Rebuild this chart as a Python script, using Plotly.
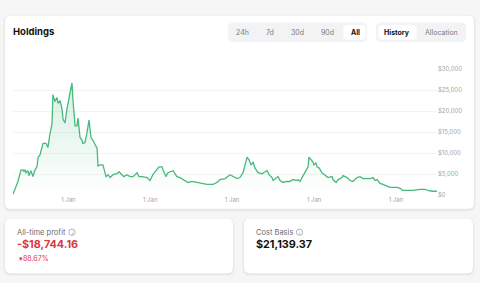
import plotly.graph_objects as go

W, H = 480, 283

# ---- data ----
dates = [
    "2017-04-29", "2017-05-17", "2017-05-21", "2017-06-04", "2017-06-13", "2017-06-17", "2017-06-22",
    "2017-06-26", "2017-07-05", "2017-07-09", "2017-07-18", "2017-07-27", "2017-08-01", "2017-08-05",
    "2017-08-14", "2017-08-19", "2017-08-27", "2017-09-05", "2017-09-10", "2017-09-23", "2017-10-02",
    "2017-10-11", "2017-10-20", "2017-10-24", "2017-11-02", "2017-11-11", "2017-11-16", "2017-11-25",
    "2017-12-04", "2017-12-08", "2017-12-17", "2017-12-26", "2017-12-30", "2018-01-08", "2018-01-17",
    "2018-01-22", "2018-01-31", "2018-02-08", "2018-02-13", "2018-02-22", "2018-03-03", "2018-03-07",
    "2018-03-16", "2018-03-25", "2018-04-03", "2018-04-12", "2018-04-21", "2018-05-09", "2018-05-13",
    "2018-05-22", "2018-06-04", "2018-06-18", "2018-06-27", "2018-07-06", "2018-07-19", "2018-08-06",
    "2018-08-15", "2018-08-28", "2018-09-06", "2018-09-19", "2018-10-03", "2018-10-16", "2018-11-03",
    "2018-11-12", "2018-11-25", "2018-12-18", "2018-12-31", "2019-01-13", "2019-01-31", "2019-02-09",
    "2019-02-23", "2019-02-27", "2019-03-12", "2019-03-21", "2019-04-13", "2019-04-30", "2019-05-14",
    "2019-05-27", "2019-06-19", "2019-07-06", "2019-07-29", "2019-08-20", "2019-09-11", "2019-10-08",
    "2019-10-26", "2019-11-08", "2019-12-01", "2019-12-23", "2020-01-05", "2020-01-23", "2020-02-05",
    "2020-02-19", "2020-02-28", "2020-03-08", "2020-03-17", "2020-03-26", "2020-04-04", "2020-04-12",
    "2020-04-26", "2020-05-14", "2020-05-27", "2020-06-05", "2020-06-14", "2020-06-27", "2020-07-02",
    "2020-07-15", "2020-07-24", "2020-08-02", "2020-08-15", "2020-09-02", "2020-09-15", "2020-09-29",
    "2020-10-17", "2020-10-21", "2020-10-30", "2020-11-08", "2020-11-21", "2020-12-05", "2020-12-09",
    "2020-12-18", "2020-12-27", "2020-12-31", "2021-01-09", "2021-01-14", "2021-01-23", "2021-02-05",
    "2021-02-18", "2021-03-04", "2021-03-22", "2021-03-26", "2021-04-09", "2021-04-18", "2021-05-05",
    "2021-05-10", "2021-05-28", "2021-06-10", "2021-06-23", "2021-07-11", "2021-07-25", "2021-08-07",
    "2021-08-25", "2021-09-07", "2021-09-21", "2021-09-30", "2021-10-09", "2021-10-22", "2021-11-04",
    "2021-11-22", "2021-12-05", "2021-12-19", "2022-01-06", "2022-01-19", "2022-02-01", "2022-02-19",
    "2022-03-05", "2022-03-18", "2022-04-18", "2022-05-11", "2022-05-24", "2022-06-11", "2022-07-03",
]
values = [
    230, 3020, 3250, 6050, 6050, 5580, 6050,
    5350, 5800, 4650, 5800, 4420, 5350, 6050,
    6750, 9070, 9540, 11160, 12330, 12330, 11400,
    14650, 16980, 23960, 22330, 23260, 21860, 22560,
    20470, 18140, 17210, 20700, 21860, 24660, 26750,
    22330, 16510, 16510, 18380, 13720, 13030, 12330,
    12560, 14890, 17910, 13720, 13030, 11160, 6980,
    7210, 7210, 4420, 4880, 4190, 4880, 5120,
    5580, 4880, 4420, 4880, 4420, 4420, 5350,
    4420, 4420, 4190, 3490, 4880, 6050, 6750,
    6750, 6050, 4420, 5350, 5820, 4420, 4190,
    3720, 3020, 3260, 3020, 2790, 2560, 2560,
    3020, 3720, 3950, 4880, 4420, 3950, 4190,
    5350, 7210, 9070, 8370, 7210, 7910, 6510,
    5350, 5120, 5580, 5820, 4880, 4190, 3490,
    3950, 4420, 3490, 3020, 3260, 3260, 3720,
    3490, 3720, 3260, 4190, 5350, 6750, 9070,
    8600, 7910, 7210, 7680, 6750, 6510, 5350,
    4880, 4190, 4420, 3720, 3020, 3720, 4190,
    4650, 4190, 3490, 3260, 4190, 4420, 3950,
    3950, 3950, 4190, 3490, 3720, 2790, 2560,
    2090, 1860, 1860, 1860, 1630, 1160, 1160,
    1160, 1160, 1400, 1400, 1160, 930, 930,
]
y_ticks = [0, 5000, 10000, 15000, 20000, 25000, 30000]
y_tick_labels = ["$0", "$5,000", "$10,000", "$15,000", "$20,000", "$25,000", "$30,000"]
range_buttons = ["24h", "7d", "30d", "90d", "All"]
view_buttons = ["History", "Allocation"]
profit_label = "All-time profit"
profit_value = "-$18,744.16"
profit_pct = "88.67%"
cost_label = "Cost Basis"
cost_value = "$21,139.37"

FONT = "Inter"
GREEN = "#47b97c"
RED = "#d8383f"


def px(x):
    return x / W


def py(y):
    return 1 - y / H


def rrect(x0, y0, x1, y1, r):
    X, Y = px, py
    return (f"M{X(x0 + r)},{Y(y0)} L{X(x1 - r)},{Y(y0)} Q{X(x1)},{Y(y0)} {X(x1)},{Y(y0 + r)} "
            f"L{X(x1)},{Y(y1 - r)} Q{X(x1)},{Y(y1)} {X(x1 - r)},{Y(y1)} "
            f"L{X(x0 + r)},{Y(y1)} Q{X(x0)},{Y(y1)} {X(x0)},{Y(y1 - r)} "
            f"L{X(x0)},{Y(y0 + r)} Q{X(x0)},{Y(y0)} {X(x0 + r)},{Y(y0)} Z")


shapes = []
annotations = []


def card(x0, y0, x1, y1):
    for d, a in [(2, 0.022), (1, 0.03)]:
        shapes.append(dict(type="path", xref="paper", yref="paper", layer="below",
                           path=rrect(x0 - d, y0 - d + 1, x1 + d, y1 + d + 1, 7),
                           fillcolor=f"rgba(0,0,0,{a})", line=dict(width=0)))
    shapes.append(dict(type="path", xref="paper", yref="paper", layer="below",
                       path=rrect(x0, y0, x1, y1, 6), fillcolor="white", line=dict(width=0)))


card(5, 12, 474, 210)
card(5, 220, 233, 276)
card(244, 220, 473, 276)


def text(x, y, s, size, color, xanchor="left", bold=False):
    annotations.append(dict(xref="paper", yref="paper", x=px(x), y=py(y), text=(f"<b>{s}</b>" if bold else s),
                            showarrow=False, xanchor=xanchor, yanchor="middle", borderpad=0,
                            font=dict(family=FONT, size=size, color=color)))


text(12, 29, "Holdings", 9.5, "#111111", bold=True)

# segmented controls
shapes.append(dict(type="path", xref="paper", yref="paper", path=rrect(228, 19, 367, 39, 5),
                   fillcolor="#f2f3f5", line=dict(width=0)))
shapes.append(dict(type="path", xref="paper", yref="paper", path=rrect(343, 21, 366, 37, 4),
                   fillcolor="white", line=dict(color="#ececee", width=0.5)))
for lbl, cx in zip(range_buttons, [242, 269.5, 297, 327, 355]):
    sel = lbl == "All"
    text(cx, 29.5, lbl, 7, "#111111" if sel else "#7a7a7f", xanchor="center", bold=sel)

shapes.append(dict(type="path", xref="paper", yref="paper", path=rrect(376, 19, 466, 39, 5),
                   fillcolor="#f2f3f5", line=dict(width=0)))
shapes.append(dict(type="path", xref="paper", yref="paper", path=rrect(378, 21, 417, 37, 4),
                   fillcolor="white", line=dict(color="#ececee", width=0.5)))
for lbl, cx in zip(view_buttons, [397, 441]):
    sel = lbl == "History"
    text(cx, 29.5, lbl, 7, "#111111" if sel else "#7a7a7f", xanchor="center", bold=sel)


def info_icon(cx, cy):
    shapes.append(dict(type="circle", xref="paper", yref="paper",
                       x0=px(cx - 3.2), x1=px(cx + 3.2), y0=py(cy + 3.2), y1=py(cy - 3.2),
                       line=dict(color="#a0a0a6", width=0.8), fillcolor="rgba(0,0,0,0)"))
    text(cx, cy + 0.3, "i", 5, "#a0a0a6", xanchor="center")


# bottom cards
text(16, 234, profit_label, 7.5, "#6b6b72")
info_icon(72, 234)
text(16, 247, profit_value, 10.8, RED, bold=True)
text(18, 261, "▾" + profit_pct, 7, RED)

text(255, 234, cost_label, 7.5, "#6b6b72")
info_icon(299.5, 234)
text(255, 247, cost_value, 10.8, "#111111", bold=True)

fig = go.Figure()
fig.add_trace(go.Scatter(
    x=dates, y=values, mode="lines",
    line=dict(color=GREEN, width=1.3),
    fill="tozeroy",
    fillgradient=dict(type="vertical",
                      colorscale=[[0, "rgba(71,185,124,0.0)"], [1, "rgba(71,185,124,0.22)"]]),
    hoverinfo="skip", showlegend=False,
))

fig.update_layout(
    width=W, height=H,
    margin=dict(l=0, r=0, t=0, b=0),
    paper_bgcolor="#f6f6f7",
    plot_bgcolor="rgba(0,0,0,0)",
    font=dict(family=FONT),
    shapes=shapes,
    annotations=annotations,
    xaxis=dict(
        domain=[px(13), px(437)],
        range=[dates[0], dates[-1]],
        type="date",
        tick0="2018-01-01", dtick="M12", tickformat="%-d %b",
        showgrid=False, zeroline=False, showline=False, ticks="",
        tickfont=dict(family=FONT, size=6, color="#a3a3a8"),
        fixedrange=True,
    ),
    yaxis=dict(
        domain=[py(196), py(67)],
        range=[0, 30000],
        side="right",
        tickmode="array",
        tickvals=y_ticks,
        ticktext=y_tick_labels,
        showgrid=True, gridcolor="#f3f3f4", gridwidth=1,
        zeroline=False, showline=False, ticks="",
        tickfont=dict(family=FONT, size=6, color="#a3a3a8"),
        fixedrange=True,
    ),
)

fig.write_html("out.html", config={"displayModeBar": False})
